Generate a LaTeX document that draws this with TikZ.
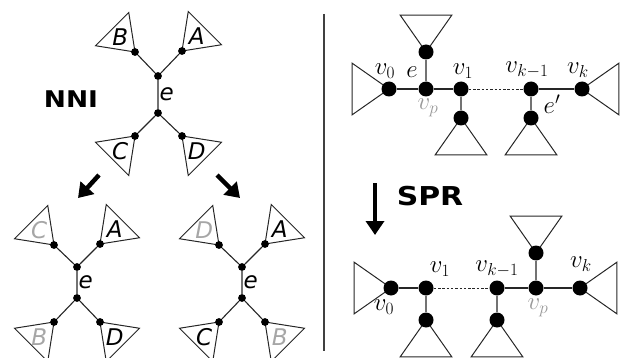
\documentclass[tikz,border=0pt]{standalone}
\usepackage{fontspec}
\setsansfont{DejaVu Sans}
\newfontfamily\opfont[FakeStretch=1.15]{DejaVu Sans}
\usepackage{tikz}
\usetikzlibrary{arrows.meta,calc,backgrounds}
\tikzset{
  tr/dot/.style={circle, fill=black, inner sep=0pt, minimum size=7.8pt},
  tr/bigdot/.style={circle, fill=black, inner sep=0pt, minimum size=15pt},
  tr/edge/.style={draw=black!85, line width=1.1pt},
  tr/vedge/.style={draw=black!55, line width=1.2pt},
  tr/chain/.style={draw=black!85, line width=0.9pt, dash pattern=on 2.5pt off 1.8pt},
  tr/sub/.style={draw=black!85, line width=1pt, line join=miter},
  tr/leaf/.style={font=\fontsize{23}{23}\sffamily\itshape, inner sep=0pt},
  tr/moved/.style={tr/leaf, text=black!35},
  tr/var/.style={font=\fontsize{24}{24}\selectfont, inner sep=0pt},
  tr/pruned/.style={tr/var, text=black!40},
  op/arrow/.style={line width=4.5pt, -{Triangle[length=14pt, width=18pt]}},
  op/name/.style={font=\fontsize{23}{23}\opfont\bfseries, inner sep=0pt},
  sep/.style={draw=black!75, line width=1.5pt}
}

\begin{document}
\begin{tikzpicture}[x=1pt, y=-1pt]
  \useasboundingbox (0,0) rectangle (620,358);

  % NNI: original tree
  \node[tr/dot] (t0up) at (158,76) {};
  \node[tr/dot] (t0lo) at (158,113) {};
  \node[tr/dot] (t0a) at (182,51) {};
  \node[tr/dot] (t0b) at (135,52) {};
  \node[tr/dot] (t0c) at (135,136) {};
  \node[tr/dot] (t0d) at (182,136) {};
  \node[tr/leaf] (t0la) at ($(t0a)+(315:21)$) {A};
  \node[tr/leaf] (t0lb) at ($(t0b)+(225:21)$) {B};
  \node[tr/leaf] (t0lc) at ($(t0c)+(135:21)$) {C};
  \node[tr/leaf] (t0ld) at ($(t0d)+(45:21)$) {D};

  % NNI: first neighbour
  \node[tr/dot] (t1up) at (77,267) {};
  \node[tr/dot] (t1lo) at (77,298) {};
  \node[tr/dot] (t1a) at (100,244) {};
  \node[tr/dot] (t1b) at (54,245) {};
  \node[tr/dot] (t1c) at (54,322) {};
  \node[tr/dot] (t1d) at (100,322) {};
  \node[tr/leaf] (t1la) at ($(t1a)+(315:21)$) {A};
  \node[tr/moved] (t1lb) at ($(t1b)+(225:21)$) {C};
  \node[tr/moved] (t1lc) at ($(t1c)+(135:21)$) {B};
  \node[tr/leaf] (t1ld) at ($(t1d)+(45:21)$) {D};

  % NNI: second neighbour
  \node[tr/dot] (t2up) at (242,267) {};
  \node[tr/dot] (t2lo) at (242,298) {};
  \node[tr/dot] (t2a) at (265,244) {};
  \node[tr/dot] (t2b) at (219,245) {};
  \node[tr/dot] (t2c) at (219,322) {};
  \node[tr/dot] (t2d) at (265,322) {};
  \node[tr/leaf] (t2la) at ($(t2a)+(315:21)$) {A};
  \node[tr/moved] (t2lb) at ($(t2b)+(225:21)$) {D};
  \node[tr/leaf] (t2lc) at ($(t2c)+(135:21)$) {C};
  \node[tr/moved] (t2ld) at ($(t2d)+(45:21)$) {B};

  \begin{scope}[on background layer]
    \draw[tr/edge] (t0up) -- (t0a);
    \draw[tr/edge] (t0up) -- (t0b);
    \draw[tr/edge] (t0lo) -- (t0c);
    \draw[tr/edge] (t0lo) -- (t0d);
    \draw[tr/vedge] (t0up) -- (t0lo) node[midway, right=1pt, tr/leaf] (t0e) {e};
    \draw[tr/sub] (t0a.center) -- ++(279:40) -- ($(t0a)+(351:40)$) -- cycle;
    \draw[tr/sub] (t0b.center) -- ++(189:40) -- ($(t0b)+(261:40)$) -- cycle;
    \draw[tr/sub] (t0c.center) -- ++(99:40) -- ($(t0c)+(171:40)$) -- cycle;
    \draw[tr/sub] (t0d.center) -- ++(9:40) -- ($(t0d)+(81:40)$) -- cycle;

    \draw[tr/edge] (t1up) -- (t1a);
    \draw[tr/edge] (t1up) -- (t1b);
    \draw[tr/edge] (t1lo) -- (t1c);
    \draw[tr/edge] (t1lo) -- (t1d);
    \draw[tr/vedge] (t1up) -- (t1lo) node[midway, right=1pt, tr/leaf] (t1e) {e};
    \draw[tr/sub] (t1a.center) -- ++(279:40) -- ($(t1a)+(351:40)$) -- cycle;
    \draw[tr/sub] (t1b.center) -- ++(189:40) -- ($(t1b)+(261:40)$) -- cycle;
    \draw[tr/sub] (t1c.center) -- ++(99:40) -- ($(t1c)+(171:40)$) -- cycle;
    \draw[tr/sub] (t1d.center) -- ++(9:40) -- ($(t1d)+(81:40)$) -- cycle;

    \draw[tr/edge] (t2up) -- (t2a);
    \draw[tr/edge] (t2up) -- (t2b);
    \draw[tr/edge] (t2lo) -- (t2c);
    \draw[tr/edge] (t2lo) -- (t2d);
    \draw[tr/vedge] (t2up) -- (t2lo) node[midway, right=1pt, tr/leaf] (t2e) {e};
    \draw[tr/sub] (t2a.center) -- ++(279:40) -- ($(t2a)+(351:40)$) -- cycle;
    \draw[tr/sub] (t2b.center) -- ++(189:40) -- ($(t2b)+(261:40)$) -- cycle;
    \draw[tr/sub] (t2c.center) -- ++(99:40) -- ($(t2c)+(171:40)$) -- cycle;
    \draw[tr/sub] (t2d.center) -- ++(9:40) -- ($(t2d)+(81:40)$) -- cycle;
  \end{scope}

  \node[op/name] (nni) at (71,99) {NNI};
  \draw[op/arrow] (99,175) -- (78,198);
  \draw[op/arrow] (217,175) -- (240,198);

  \draw[sep] (324,14) -- (324,351);

  % SPR: before
  \node[tr/bigdot] (r0v0) at (389,89) {};
  \node[tr/bigdot] (r0vp) at (426,89) {};
  \node[tr/bigdot] (r0v1) at (461,89) {};
  \node[tr/bigdot] (r0vk1) at (531,89) {};
  \node[tr/bigdot] (r0vk) at (582,89) {};
  \node[tr/bigdot] (r0up) at (426,52) {};
  \node[tr/bigdot] (r0d1) at (461,118) {};
  \node[tr/bigdot] (r0dk1) at (531,118) {};
  \node[tr/var] at (385,71) {$v_0$};
  \node[tr/var] at (412,72) {$e$};
  \node[tr/var] at (463,71) {$v_1$};
  \node[tr/var] at (527,70) {$v_{k-1}$};
  \node[tr/var] at (578,70) {$v_k$};
  \node[tr/pruned] at (428,108) {$v_p$};
  \node[tr/var] at (552,104) {$e'$};

  % SPR: after
  \node[tr/bigdot] (r1v0) at (391,288) {};
  \node[tr/bigdot] (r1v1) at (426,288) {};
  \node[tr/bigdot] (r1vk1) at (497,288) {};
  \node[tr/bigdot] (r1vp) at (536,288) {};
  \node[tr/bigdot] (r1vk) at (580,288) {};
  \node[tr/bigdot] (r1up) at (536,253) {};
  \node[tr/bigdot] (r1d1) at (426,320) {};
  \node[tr/bigdot] (r1dk1) at (497,320) {};
  \node[tr/var] at (440,269) {$v_1$};
  \node[tr/var] at (497,269) {$v_{k-1}$};
  \node[tr/var] at (581,264) {$v_k$};
  \node[tr/var] at (384,307) {$v_0$};
  \node[tr/pruned] at (538,308) {$v_p$};

  \begin{scope}[on background layer]
    \draw[tr/edge] (r0v0) -- (r0vp);
    \draw[tr/edge] (r0vp) -- (r0v1);
    \draw[tr/chain] (r0v1) -- (r0vk1);
    \draw[tr/edge] (r0vk1) -- (r0vk);
    \draw[tr/vedge] (r0vp) -- (r0up);
    \draw[tr/vedge] (r0v1) -- (r0d1);
    \draw[tr/vedge] (r0vk1) -- (r0dk1);
    \draw[tr/sub] (r0v0.center) -- ++(145:45) -- ($(r0v0)+(215:45)$) -- cycle;
    \draw[tr/sub] (r0vk.center) -- ++(-35:45) -- ($(r0vk)+(35:45)$) -- cycle;
    \draw[tr/sub] (r0up.center) -- ++(235:45) -- ($(r0up)+(305:45)$) -- cycle;
    \draw[tr/sub] (r0d1.center) -- ++(55:45) -- ($(r0d1)+(125:45)$) -- cycle;
    \draw[tr/sub] (r0dk1.center) -- ++(55:45) -- ($(r0dk1)+(125:45)$) -- cycle;

    \draw[tr/edge] (r1v0) -- (r1v1);
    \draw[tr/chain] (r1v1) -- (r1vk1);
    \draw[tr/edge] (r1vk1) -- (r1vp);
    \draw[tr/edge] (r1vp) -- (r1vk);
    \draw[tr/vedge] (r1vp) -- (r1up);
    \draw[tr/vedge] (r1v1) -- (r1d1);
    \draw[tr/vedge] (r1vk1) -- (r1dk1);
    \draw[tr/sub] (r1v0.center) -- ++(145:45) -- ($(r1v0)+(215:45)$) -- cycle;
    \draw[tr/sub] (r1vk.center) -- ++(-35:45) -- ($(r1vk)+(35:45)$) -- cycle;
    \draw[tr/sub] (r1up.center) -- ++(235:45) -- ($(r1up)+(305:45)$) -- cycle;
    \draw[tr/sub] (r1d1.center) -- ++(55:45) -- ($(r1d1)+(125:45)$) -- cycle;
    \draw[tr/sub] (r1dk1.center) -- ++(55:45) -- ($(r1dk1)+(125:45)$) -- cycle;
  \end{scope}

  \draw[op/arrow] (375,183) -- (375,235);
  \node[op/name, font=\fontsize{26}{26}\opfont\bfseries] (spr) at (430,196) {SPR};
\end{tikzpicture}
\end{document}
